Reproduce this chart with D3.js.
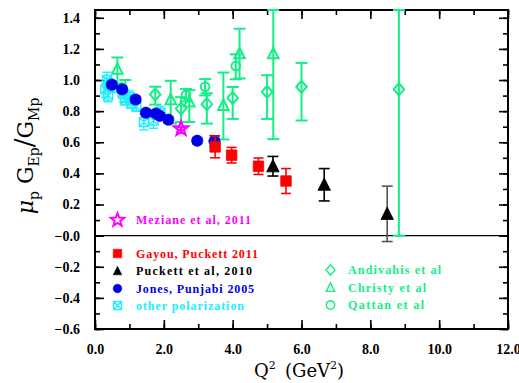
<!DOCTYPE html>
<html>
<head>
<meta charset="utf-8">
<script src="https://cdn.jsdelivr.net/npm/d3@7"></script>
<style>
  html, body { margin: 0; padding: 0; background: #fff; }
  svg { display: block; }
</style>
</head>
<body>
<svg id="chart" width="519" height="383"></svg>
<script>
// ---- Axis ticks ----
const xTickValues = [0, 2, 4, 6, 8, 10, 12];
const xTickLabels = ["0.0", "2.0", "4.0", "6.0", "8.0", "10.0", "12.0"];
const yTickValues = [-0.6, -0.4, -0.2, 0, 0.2, 0.4, 0.6, 0.8, 1.0, 1.2, 1.4];
const yTickLabels = ["\u22120.6", "\u22120.4", "\u22120.2", "\u22120.0", "0.2", "0.4", "0.6", "0.8", "1.0", "1.2", "1.4"];

// ---- Data: Q^2 (GeV^2), ratio, error below, error above ----
const jonesQ2 = [0.49, 0.79, 1.18, 1.48, 1.77, 1.88, 2.13, 2.97, 3.47];
const jonesR = [0.97, 0.94, 0.875, 0.79, 0.785, 0.77, 0.745, 0.61, 0.607];
const jonesErr = [0.02, 0.02, 0.02, 0.02, 0.02, 0.02, 0.02, 0.02, 0.035];

const mezianeQ2 = [2.5];
const mezianeR = [0.687];
const mezianeErr = [0.01];

const gayouQ2 = [3.49, 3.97, 4.75, 5.55];
const gayouR = [0.57, 0.517, 0.446, 0.351];
const gayouErr = [0.07, 0.05, 0.053, 0.08];

const puckettQ2 = [5.17, 6.66, 8.49];
const puckettR = [0.446, 0.327, 0.14];
const puckettErr = [0.063, 0.104, 0.178];

const otherQ2 = [0.30, 0.35, 0.40, 0.38, 0.55, 0.80, 0.88, 1.00, 1.05, 1.20, 1.42, 1.70, 1.90];
const otherR = [0.94, 1.00, 0.97, 0.90, 0.95, 0.92, 0.87, 0.89, 0.85, 0.83, 0.73, 0.74, 0.79];
const otherErr = [0.05, 0.05, 0.04, 0.04, 0.03, 0.04, 0.03, 0.04, 0.03, 0.03, 0.05, 0.05, 0.04];

const andivahisQ2 = [1.75, 2.5, 3.25, 4.0, 5.0, 6.0, 8.83];
const andivahisR = [0.907, 0.817, 0.845, 0.885, 0.924, 0.956, 0.94];
const andivahisErrLo = [0.065, 0.087, 0.125, 0.135, 0.174, 0.216, 0.94];
const andivahisErrHi = [0.05, 0.073, 0.07, 0.07, 0.107, 0.154, 0.94];

const christyQ2 = [0.65, 0.88, 2.2, 2.74, 3.73, 4.2, 5.18];
const christyR = [1.07, 0.93, 0.875, 0.86, 0.838, 1.17, 1.17];
const christyErrLo = [0.09, 0.07, 0.155, 0.13, 0.22, 0.16, 0.55];
const christyErrHi = [0.075, 0.07, 0.12, 0.075, 0.21, 0.16, 0.55];

const qattanQ2 = [2.64, 3.2, 4.09];
const qattanR = [0.903, 0.956, 1.09];
const qattanErrLo = [0.04, 0.055, 0.085];
const qattanErrHi = [0.04, 0.05, 0.075];

// ---- Colours ----
const GREEN = "#14ee88";
const CYAN = "#22eeff";
const BLUE = "#0000e6";
const RED = "#ff0000";
const MAGENTA = "#ff00ff";

// ---- Layout ----
const plot = { left: 95, right: 508, top: 10, bottom: 329 };
const x = d3.scaleLinear().domain([0, 12]).range([plot.left, plot.right]);
const y = d3.scaleLinear().domain([-0.6, 1.45]).range([plot.bottom, plot.top]);

const svg = d3.select("#chart");
const tickFont = "'Liberation Serif', 'Times New Roman', serif";

// zero line
svg.append("line")
  .attr("x1", plot.left).attr("x2", plot.right)
  .attr("y1", y(0)).attr("y2", y(0))
  .attr("stroke", "#000").attr("stroke-width", 1.3);

// ---- Axes (ticks inward on all four sides) ----
function styleAxis(g) {
  g.select(".domain").remove();
  g.selectAll(".tick line").attr("stroke", "#000").attr("stroke-width", 1.6);
  g.selectAll(".tick text").attr("fill", "#000")
    .attr("font-family", tickFont).attr("font-weight", "bold").attr("font-size", 14);
}
const xMinor = d3.range(0, 12.01, 1);
const yMinor = d3.range(-6, 15).map(v => v / 10);

svg.append("g").attr("transform", `translate(0,${plot.bottom})`)
  .call(d3.axisBottom(x).tickValues(xTickValues).tickSize(-9).tickPadding(15)
    .tickFormat((d, i) => xTickLabels[i]))
  .call(styleAxis);
svg.append("g").attr("transform", `translate(0,${plot.bottom})`)
  .call(d3.axisBottom(x).tickValues(xMinor).tickSize(-5).tickFormat(""))
  .call(styleAxis);
svg.append("g").attr("transform", `translate(0,${plot.top})`)
  .call(d3.axisTop(x).tickValues(xTickValues).tickSize(-9).tickFormat(""))
  .call(styleAxis);
svg.append("g").attr("transform", `translate(0,${plot.top})`)
  .call(d3.axisTop(x).tickValues(xMinor).tickSize(-5).tickFormat(""))
  .call(styleAxis);

svg.append("g").attr("transform", `translate(${plot.left},0)`)
  .call(d3.axisLeft(y).tickValues(yTickValues).tickSize(-9).tickPadding(15)
    .tickFormat((d, i) => yTickLabels[i]))
  .call(styleAxis);
svg.append("g").attr("transform", `translate(${plot.left},0)`)
  .call(d3.axisLeft(y).tickValues(yMinor).tickSize(-5).tickFormat(""))
  .call(styleAxis);
svg.append("g").attr("transform", `translate(${plot.right},0)`)
  .call(d3.axisRight(y).tickValues(yTickValues).tickSize(-9).tickFormat(""))
  .call(styleAxis);
svg.append("g").attr("transform", `translate(${plot.right},0)`)
  .call(d3.axisRight(y).tickValues(yMinor).tickSize(-5).tickFormat(""))
  .call(styleAxis);

// frame
svg.append("rect")
  .attr("x", plot.left).attr("y", plot.top)
  .attr("width", plot.right - plot.left).attr("height", plot.bottom - plot.top)
  .attr("fill", "none").attr("stroke", "#000").attr("stroke-width", 2);

// ---- Marker shapes ----
const shapes = {
  circle: r => `M${-r},0A${r},${r} 0 1,0 ${r},0A${r},${r} 0 1,0 ${-r},0Z`,
  square: s => `M${-s/2},${-s/2}h${s}v${s}h${-s}Z`,
  triangle: s => `M0,${-s*0.55}L${s/2},${s*0.45}L${-s/2},${s*0.45}Z`,
  diamond: s => `M0,${-s*0.58}L${s/2},0L0,${s*0.58}L${-s/2},0Z`,
  boxX: s => `M${-s/2},${-s/2}h${s}v${s}h${-s}ZM${-s/2},${-s/2}L${s/2},${s/2}M${s/2},${-s/2}L${-s/2},${s/2}`,
  star: r => {
    let p = "";
    for (let i = 0; i < 10; i++) {
      const a = -Math.PI / 2 + i * Math.PI / 5;
      const rr = i % 2 === 0 ? r : r * 0.42;
      p += (i === 0 ? "M" : "L") + (rr * Math.cos(a)).toFixed(2) + "," + (rr * Math.sin(a)).toFixed(2);
    }
    return p + "Z";
  }
};

const yLo = -0.6, yHi = 1.45;
function drawSeries(opts) {
  const { q2, r, errLo, errHi, color, barColor, cap, shape, size, fill, sw } = opts;
  const data = q2.map((q, i) => ({ q, r: r[i], lo: Math.max(yLo, r[i] - errLo[i]), hi: Math.min(yHi, r[i] + errHi[i]) }));
  const g = svg.append("g");
  const bc = barColor || color;
  data.forEach((d, i) => {
    const c = Array.isArray(bc) ? bc[i] : bc;
    const eb = g.append("g").attr("stroke", c).attr("stroke-width", sw || 1.6).attr("fill", "none");
    eb.append("line").attr("x1", x(d.q)).attr("x2", x(d.q)).attr("y1", y(d.lo)).attr("y2", y(d.hi));
    eb.append("line").attr("x1", x(d.q) - cap / 2).attr("x2", x(d.q) + cap / 2).attr("y1", y(d.lo)).attr("y2", y(d.lo));
    eb.append("line").attr("x1", x(d.q) - cap / 2).attr("x2", x(d.q) + cap / 2).attr("y1", y(d.hi)).attr("y2", y(d.hi));
  });
  g.selectAll("path.mark").data(data).join("path")
    .attr("class", "mark")
    .attr("d", shapes[shape](size))
    .attr("transform", d => `translate(${x(d.q)},${y(d.r)})`)
    .attr("fill", fill ? color : "#fff")
    .attr("fill-opacity", fill ? 1 : 0)
    .attr("stroke", color)
    .attr("stroke-width", fill ? 0.8 : (sw || 1.6));
}

// green (Rosenbluth) series first, polarization data on top
drawSeries({ q2: andivahisQ2, r: andivahisR, errLo: andivahisErrLo, errHi: andivahisErrHi,
  color: GREEN, cap: 12, shape: "diamond", size: 10.5, fill: false, sw: 2 });
drawSeries({ q2: christyQ2, r: christyR, errLo: christyErrLo, errHi: christyErrHi,
  color: GREEN, cap: 12, shape: "triangle", size: 10.5, fill: false, sw: 2 });
drawSeries({ q2: qattanQ2, r: qattanR, errLo: qattanErrLo, errHi: qattanErrHi,
  color: GREEN, cap: 12, shape: "circle", size: 4.3, fill: false, sw: 2 });
drawSeries({ q2: otherQ2, r: otherR, errLo: otherErr, errHi: otherErr,
  color: CYAN, cap: 9, shape: "boxX", size: 9, fill: false, sw: 1.4 });
drawSeries({ q2: jonesQ2, r: jonesR, errLo: jonesErr, errHi: jonesErr,
  color: BLUE, cap: 10, shape: "circle", size: 5.6, fill: true });
drawSeries({ q2: gayouQ2, r: gayouR, errLo: gayouErr, errHi: gayouErr,
  color: RED, cap: 10, shape: "square", size: 10.5, fill: true });
drawSeries({ q2: puckettQ2, r: puckettR, errLo: puckettErr, errHi: puckettErr,
  color: "#000", barColor: ["#000", "#000", "#555"], cap: 11, shape: "triangle", size: 12.5, fill: true });
drawSeries({ q2: mezianeQ2, r: mezianeR, errLo: mezianeErr, errHi: mezianeErr,
  color: MAGENTA, cap: 8, shape: "star", size: 7.5, fill: false, sw: 2.2 });

// ---- Legend ----
const legendFont = "'Liberation Serif', serif";
const legendLeft = [
  { label: "Meziane et al, 2011", color: MAGENTA, shape: "star", size: 7, fill: false, y: 220, w: 115 },
  { label: "Gayou, Puckett 2011", color: RED, shape: "square", size: 8.5, fill: true, y: 253.5, w: 122 },
  { label: "Puckett et al, 2010", color: "#000", shape: "triangle", size: 8.5, fill: true, y: 271, w: 116 },
  { label: "Jones, Punjabi 2005", color: BLUE, shape: "circle", size: 4.3, fill: true, y: 288.5, w: 118 },
  { label: "other polarization", color: CYAN, shape: "boxX", size: 8, fill: false, y: 305.5, w: 108 }
];
const legendRight = [
  { label: "Andivahis et al", color: GREEN, shape: "diamond", size: 9, fill: false, y: 270, w: 93 },
  { label: "Christy et al", color: GREEN, shape: "triangle", size: 8.5, fill: false, y: 287.5, w: 78 },
  { label: "Qattan et al", color: GREEN, shape: "circle", size: 4.2, fill: false, y: 305, w: 76 }
];
function drawLegend(items, sx, tx) {
  items.forEach(it => {
    svg.append("path")
      .attr("d", shapes[it.shape](it.size))
      .attr("transform", `translate(${sx},${it.y})`)
      .attr("fill", it.fill ? it.color : "none")
      .attr("stroke", it.color)
      .attr("stroke-width", it.fill ? 0.6 : (it.shape === "star" ? 2 : 1.4));
    svg.append("text")
      .attr("x", tx).attr("y", it.y + 4)
      .attr("fill", it.color)
      .attr("font-family", legendFont).attr("font-weight", "bold").attr("font-size", 12)
      .attr("textLength", it.w).attr("lengthAdjust", "spacing")
      .text(it.label);
  });
}
drawLegend(legendLeft, 117.5, 136);
drawLegend(legendRight, 330.5, 348);

// ---- Axis titles ----
const titleFont = "'DejaVu Serif', serif";
const xt = svg.append("text")
  .attr("x", 299).attr("y", 377)
  .attr("text-anchor", "middle")
  .attr("font-family", titleFont).attr("font-size", 18).attr("fill", "#000");
xt.append("tspan").text("Q");
xt.append("tspan").attr("font-size", 11).attr("dy", -8).text("2");
xt.append("tspan").attr("dy", 8).text("\u2009 (GeV");
xt.append("tspan").attr("font-size", 11).attr("dy", -8).text("2");
xt.append("tspan").attr("dy", 8).text(")");

const yt = svg.append("text")
  .attr("transform", "translate(33,156) rotate(-90)")
  .attr("text-anchor", "middle")
  .attr("font-family", titleFont).attr("font-size", 22).attr("fill", "#000");
yt.append("tspan").attr("font-style", "italic").text("\u03bc");
yt.append("tspan").attr("font-size", 14).attr("dy", 6).text("p");
yt.append("tspan").attr("dy", -6).text(" G");
yt.append("tspan").attr("font-size", 14).attr("dy", 6).text("Ep");
yt.append("tspan").attr("dy", -6).attr("font-size", 26).text("/");
yt.append("tspan").text("G");
yt.append("tspan").attr("font-size", 14).attr("dy", 6).text("Mp");
</script>
</body>
</html>
